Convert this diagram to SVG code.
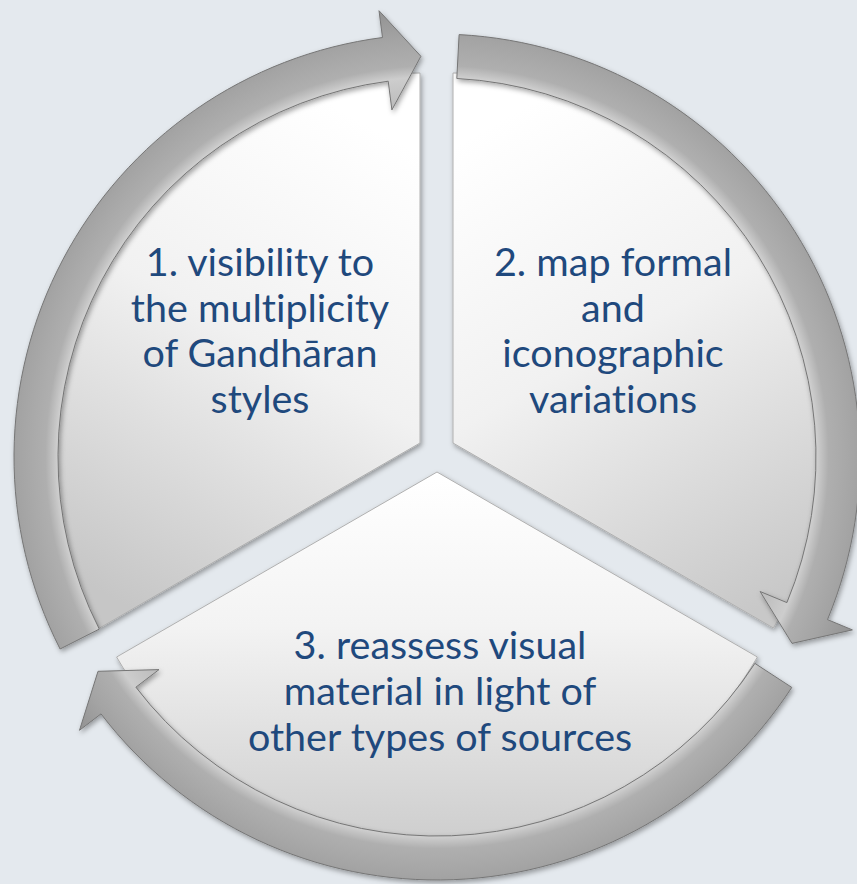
<svg xmlns="http://www.w3.org/2000/svg" width="857" height="884" viewBox="0 0 857 884">
<defs>
<style>
.lbl{font-family:Lato,"Open Sans","Liberation Sans",sans-serif;font-size:39.5px;fill:#1F497D;text-anchor:middle;font-variant-ligatures:none;font-feature-settings:"liga" 0,"clig" 0}
.wedge{stroke:#b0b0b0;stroke-width:1;filter:url(#sh)}
.arrow{fill:url(#ag);stroke:#767676;stroke-width:1;filter:url(#sh)}
</style>
<filter id="sh" x="-10%" y="-10%" width="120%" height="120%">
<feDropShadow dx="1.5" dy="2.5" stdDeviation="2.5" flood-color="#000" flood-opacity="0.35"/>
</filter>
<linearGradient id="g1" gradientUnits="userSpaceOnUse" x1="340" y1="110" x2="80" y2="580">
<stop offset="0" stop-color="#ffffff"/><stop offset="0.45" stop-color="#f1f1f1"/><stop offset="1" stop-color="#c6c6c6"/>
</linearGradient>
<linearGradient id="g2" gradientUnits="userSpaceOnUse" x1="520" y1="110" x2="790" y2="590">
<stop offset="0" stop-color="#ffffff"/><stop offset="0.45" stop-color="#f1f1f1"/><stop offset="1" stop-color="#c8c8c8"/>
</linearGradient>
<linearGradient id="g3" gradientUnits="userSpaceOnUse" x1="437" y1="480" x2="437" y2="845">
<stop offset="0" stop-color="#ffffff"/><stop offset="0.4" stop-color="#f3f3f3"/><stop offset="1" stop-color="#cdcdcd"/>
</linearGradient>
<radialGradient id="ag" gradientUnits="userSpaceOnUse" cx="437" cy="457" r="450">
<stop offset="0.78" stop-color="#bbbbbb"/>
<stop offset="0.845" stop-color="#cdcdcd"/>
<stop offset="0.87" stop-color="#afafaf"/>
<stop offset="0.93" stop-color="#a4a4a4"/>
<stop offset="1" stop-color="#929292"/>
</radialGradient>
</defs>
<rect width="857" height="884" fill="#e4e9ee"/>
<g id="node1">
<path class="wedge" fill="url(#g1)" d="M420 443 L99.6 628 A370 370 0 0 1 420 73 Z"/>
<text class="lbl"><tspan x="260" y="276">1. visibility to</tspan><tspan x="260" y="322">the multiplicity</tspan><tspan x="260" y="367">of Gandhāran</tspan><tspan x="260" y="413">styles</tspan></text>
</g>
<g id="node2">
<path class="wedge" fill="url(#g2)" d="M453 443 L453 73 A370 370 0 0 1 773.4 628 Z"/>
<text class="lbl"><tspan x="613" y="276">2. map formal</tspan><tspan x="613" y="322">and</tspan><tspan x="613" y="367">iconographic</tspan><tspan x="613" y="413">variations</tspan></text>
</g>
<g id="node3">
<path class="wedge" fill="url(#g3)" d="M437 472 L757.4 657 A370 370 0 0 1 116.6 657 Z"/>
<text class="lbl"><tspan x="440" y="659">3. reassess visual</tspan><tspan x="440" y="705">material in light of</tspan><tspan x="440" y="751">other types of sources</tspan></text>
</g>
<g id="connectors">
<path class="arrow" d="M60.1 649 A423 423 0 0 1 382.5 37.5 L379 10.7 L420.9 56.3 L391.9 109.9 L388.2 81.2 A379 379 0 0 0 99.3 629.1 Z"/>
<path class="arrow" d="M459.1 34.6 A423 423 0 0 1 827.5 619.6 L852.4 629.9 L792 643.4 L760.1 591.5 L786.9 602.6 A379 379 0 0 0 456.8 78.5 Z"/>
<path class="arrow" d="M791.8 687.4 A423 423 0 0 1 101 713.9 L79.5 730.3 L98 671.3 L159 669.6 L135.9 687.2 A379 379 0 0 0 754.9 663.4 Z"/>
</g>
</svg>
